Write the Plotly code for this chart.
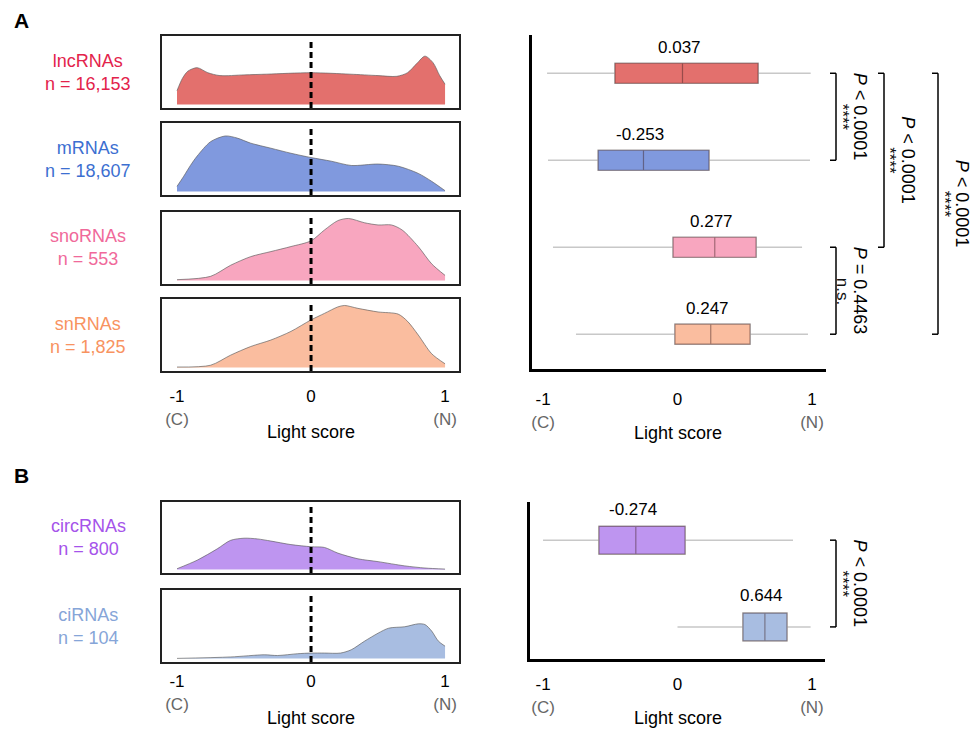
import plotly.graph_objects as go

# ---------------- data ----------------
groups_a = ["lncRNAs", "mRNAs", "snoRNAs", "snRNAs"]
counts_a = ["16,153", "18,607", "553", "1,825"]
groups_b = ["circRNAs", "ciRNAs"]
counts_b = ["800", "104"]

label_colors = {"lncRNAs": "#E3234B", "mRNAs": "#3C6FD1", "snoRNAs": "#F0699A",
                "snRNAs": "#F8935F", "circRNAs": "#A553EA", "ciRNAs": "#86A5D8"}
fill_colors = {"lncRNAs": "#E3706D", "mRNAs": "#8099DE", "snoRNAs": "#F8A6BF",
               "snRNAs": "#FABD9F", "circRNAs": "#BE95F0", "ciRNAs": "#A8BDE1"}

# density curves (light score vs relative density)
lnc_x = [-1, -0.96, -0.92, -0.85, -0.77, -0.68, -0.5, -0.33, 0, 0.29, 0.5, 0.64, 0.72, 0.79, 0.85, 0.91, 0.96, 1.0]
lnc_y = [0.19, 0.36, 0.46, 0.51, 0.44, 0.40, 0.41, 0.42, 0.44, 0.42, 0.40, 0.39, 0.44, 0.57, 0.67, 0.58, 0.40, 0.28]
mrna_x = [-1, -0.95, -0.9, -0.85, -0.75, -0.64, -0.55, -0.45, -0.3, -0.15, 0, 0.15, 0.3, 0.5, 0.65, 0.8, 0.9, 1.0]
mrna_y = [0.07, 0.21, 0.36, 0.49, 0.69, 0.77, 0.74, 0.67, 0.60, 0.53, 0.47, 0.42, 0.36, 0.38, 0.35, 0.25, 0.14, 0.01]
sno_x = [-1, -0.75, -0.6, -0.45, -0.3, -0.15, 0, 0.1, 0.2, 0.28, 0.4, 0.5, 0.6, 0.68, 0.8, 0.9, 1.0]
sno_y = [0.01, 0.056, 0.21, 0.33, 0.40, 0.47, 0.55, 0.70, 0.83, 0.86, 0.80, 0.77, 0.77, 0.70, 0.47, 0.23, 0.07]
sn_x = [-1, -0.75, -0.6, -0.45, -0.3, -0.15, 0, 0.1, 0.2, 0.25, 0.35, 0.5, 0.65, 0.72, 0.8, 0.9, 1.0]
sn_y = [0.005, 0.03, 0.17, 0.29, 0.38, 0.50, 0.66, 0.75, 0.84, 0.86, 0.82, 0.77, 0.74, 0.64, 0.45, 0.19, 0.05]
circ_x = [-1, -0.85, -0.7, -0.6, -0.5, -0.4, -0.3, -0.15, 0, 0.1, 0.2, 0.35, 0.5, 0.7, 0.85, 1.0]
circ_y = [0.01, 0.13, 0.29, 0.41, 0.44, 0.43, 0.40, 0.35, 0.32, 0.31, 0.23, 0.15, 0.11, 0.05, 0.02, 0.005]
ci_x = [-1, -0.6, -0.35, -0.25, -0.1, 0, 0.1, 0.22, 0.3, 0.4, 0.5, 0.58, 0.7, 0.8, 0.85, 0.9, 0.95, 1.0]
ci_y = [0.0, 0.02, 0.05, 0.04, 0.065, 0.074, 0.074, 0.074, 0.12, 0.24, 0.35, 0.42, 0.44, 0.48, 0.47, 0.38, 0.24, 0.17]

dens_a = [(lnc_x, lnc_y), (mrna_x, mrna_y), (sno_x, sno_y), (sn_x, sn_y)]
dens_b = [(circ_x, circ_y), (ci_x, ci_y)]

# box statistics
q1_a = [-0.465, -0.59, -0.033, -0.019]
med_a = [0.037, -0.253, 0.277, 0.247]
q3_a = [0.599, 0.234, 0.584, 0.539]
lo_a = [-0.97, -0.963, -0.926, -0.755]
hi_a = [0.99, 0.985, 0.926, 0.97]
med_labels_a = ["0.037", "-0.253", "0.277", "0.247"]

q1_b = [-0.584, 0.487]
med_b = [-0.31, 0.65]
q3_b = [0.056, 0.814]
lo_b = [-1.0, 0.0]
hi_b = [0.859, 0.99]
med_labels_b = ["-0.274", "0.644"]

# comparisons: (panel, row_from, row_to, p-text, significance, bracket level)
comparisons = [
    ("A", 0, 1, "<i>P</i> &lt; 0.0001", "****", 0),
    ("A", 0, 2, "<i>P</i> &lt; 0.0001", "****", 1),
    ("A", 0, 3, "<i>P</i> &lt; 0.0001", "****", 2),
    ("A", 2, 3, "<i>P</i> = 0.4463", "n.s.", 0),
    ("B", 0, 1, "<i>P</i> &lt; 0.0001", "****", 0),
]
tick_vals = [-1, 0, 1]
tick_text = ["-1<br><span style='color:#666'>(C)</span>", "0",
             "1<br><span style='color:#666'>(N)</span>"]

# ---------------- layout helpers ----------------
W, H = 972, 729
FONT = "Liberation Sans"


def xd(a, b):
    return [a / W, b / W]


def yd(top, bottom):
    return [1 - bottom / H, 1 - top / H]


fig = go.Figure()
layout = dict(width=W, height=H, margin=dict(l=0, r=0, t=0, b=0),
              paper_bgcolor="white", plot_bgcolor="white", showlegend=False,
              font=dict(family=FONT, size=17, color="black"), boxmode="overlay")

dens_rows_a = [(36, 108), (123, 195), (212, 284), (299, 371)]
dens_rows_b = [(502, 573), (590, 662)]
annotations = []
shapes = []
counts = dict(zip(groups_a + groups_b, counts_a + counts_b))


def add_density(idx, xs, ys, name, rows, show_ticks, standoff):
    ax = "" if idx == 1 else str(idx)
    fig.add_trace(go.Scatter(x=xs, y=ys, mode="lines", fill="tozeroy",
                             fillcolor=fill_colors[name],
                             line=dict(color="rgba(90,90,90,0.65)", width=1, shape="spline", smoothing=0.8),
                             xaxis="x" + ax, yaxis="y" + ax, hoverinfo="skip"))
    layout["xaxis" + ax] = dict(domain=xd(162, 459), range=[-1.112, 1.104], anchor="y" + ax,
                                showline=True, mirror=True, linecolor="#222", linewidth=2,
                                showgrid=False, zeroline=False, ticks="",
                                tickvals=tick_vals, ticktext=tick_text,
                                showticklabels=show_ticks, ticklabelstandoff=standoff,
                                tickfont=dict(size=17))
    layout["yaxis" + ax] = dict(domain=yd(*rows), range=[-0.05, 0.95], anchor="x" + ax,
                                showline=True, mirror=True, linecolor="#222", linewidth=2,
                                showgrid=False, zeroline=False, showticklabels=False, ticks="")
    shapes.append(dict(type="line", xref="x" + ax, yref="y" + ax + " domain", x0=0, x1=0,
                       y0=0.0, y1=0.95, line=dict(color="black", width=3, dash="6px,4px")))
    annotations.append(dict(text=f"{name}<br>n = {counts[name]}", xref="paper", x=88 / W,
                            yref="y" + ax + " domain", y=0.5, xanchor="center", yanchor="middle",
                            showarrow=False, font=dict(size=18, color=label_colors[name])))


for i, (name, (xs, ys)) in enumerate(zip(groups_a, dens_a)):
    add_density(i + 1, xs, ys, name, dens_rows_a[i], i == 3, 9)
for i, (name, (xs, ys)) in enumerate(zip(groups_b, dens_b)):
    add_density(i + 5, xs, ys, name, dens_rows_b[i], i == 1, 3)


def add_boxes(ax, groups, q1, med, q3, lo, hi, labels, width, yshift):
    for g, a, m, b, l, h in zip(groups, q1, med, q3, lo, hi):
        # whiskers
        fig.add_trace(go.Box(orientation="h", y=[g], q1=[a], median=[m], q3=[b],
                             lowerfence=[l], upperfence=[h], width=width, whiskerwidth=0,
                             line=dict(color="#C8C8C8", width=1.5), fillcolor="rgba(0,0,0,0)",
                             xaxis="x" + ax, yaxis="y" + ax, hoverinfo="skip"))
        # colored box
        fig.add_trace(go.Box(orientation="h", y=[g], q1=[a], median=[m], q3=[b],
                             lowerfence=[a], upperfence=[b], width=width, whiskerwidth=0,
                             line=dict(color="rgba(60,30,30,0.45)", width=1.2),
                             fillcolor=fill_colors[g],
                             xaxis="x" + ax, yaxis="y" + ax, hoverinfo="skip"))
    for i, (m, t) in enumerate(zip(med, labels)):
        annotations.append(dict(text=t, xref="x" + ax, x=m, yref="y" + ax, y=i, yshift=yshift,
                                xshift=-3, xanchor="center", yanchor="middle",
                                showarrow=False, font=dict(size=17)))


layout["xaxis7"] = dict(domain=xd(532, 826), range=[-1.082, 1.104], anchor="y7",
                        showline=True, linecolor="black", linewidth=3, showgrid=False,
                        zeroline=False, ticks="", tickvals=tick_vals, ticktext=tick_text,
                        ticklabelstandoff=13, tickfont=dict(size=17))
layout["yaxis7"] = dict(domain=yd(35, 369), type="category", categoryorder="array",
                        categoryarray=groups_a, range=[3.40, -0.44], anchor="x7",
                        showline=True, linecolor="black", linewidth=3, showgrid=False,
                        zeroline=False, showticklabels=False, ticks="")
layout["xaxis8"] = dict(domain=xd(530, 825), range=[-1.097, 1.097], anchor="y8",
                        showline=True, linecolor="black", linewidth=3, showgrid=False,
                        zeroline=False, ticks="", tickvals=tick_vals, ticktext=tick_text,
                        ticklabelstandoff=8, tickfont=dict(size=17))
layout["yaxis8"] = dict(domain=yd(502, 659), type="category", categoryorder="array",
                        categoryarray=groups_b, range=[1.37, -0.44], anchor="x8",
                        showline=True, linecolor="black", linewidth=3, showgrid=False,
                        zeroline=False, showticklabels=False, ticks="")

add_boxes("7", groups_a, q1_a, med_a, q3_a, lo_a, hi_a, med_labels_a, 0.23, 26)
add_boxes("8", groups_b, q1_b, med_b, q3_b, lo_b, hi_b, med_labels_b, 0.32, 31)

# brackets
bracket_x = [836, 884, 938]
for panel, r0, r1, ptxt, sig, level in comparisons:
    yref = "y7" if panel == "A" else "y8"
    bx = bracket_x[level]
    shapes.append(dict(type="line", xref="paper", yref=yref, x0=bx / W, x1=bx / W, y0=r0, y1=r1,
                       line=dict(color="black", width=1.5)))
    for r in (r0, r1):
        shapes.append(dict(type="line", xref="paper", yref=yref, x0=(bx - 6) / W, x1=bx / W,
                           y0=r, y1=r, line=dict(color="black", width=1.5)))
    annotations.append(dict(text=ptxt, xref="paper", x=(bx + 24) / W, yref=yref, y=(r0 + r1) / 2,
                            xanchor="center", yanchor="middle",
                            textangle=90, showarrow=False, font=dict(size=18)))
    annotations.append(dict(text=sig, xref="paper", x=(bx + 6) / W, yref=yref, y=(r0 + r1) / 2,
                            xanchor="center", yanchor="middle",
                            textangle=90, showarrow=False, font=dict(size=17, color="#111")))

# axis titles
for xr, ypx in (("x4", 432), ("x7", 433), ("x6", 718), ("x8", 718)):
    annotations.append(dict(text="Light score", xref=xr, x=0, yref="paper", y=1 - ypx / H,
                            xanchor="center", yanchor="middle",
                            showarrow=False, font=dict(size=18)))

# panel letters
for letter, ypx in (("A", 20), ("B", 476)):
    annotations.append(dict(text=f"<b>{letter}</b>", xref="paper", x=21 / W, yref="paper",
                            y=1 - ypx / H, xanchor="center", yanchor="middle",
                            showarrow=False, font=dict(size=21)))

layout["annotations"] = annotations
layout["shapes"] = shapes
fig.update_layout(**layout)
fig.write_html("out.html", config={"displayModeBar": False},
               post_script="document.body.style.margin='0';document.body.style.overflow='hidden';")
